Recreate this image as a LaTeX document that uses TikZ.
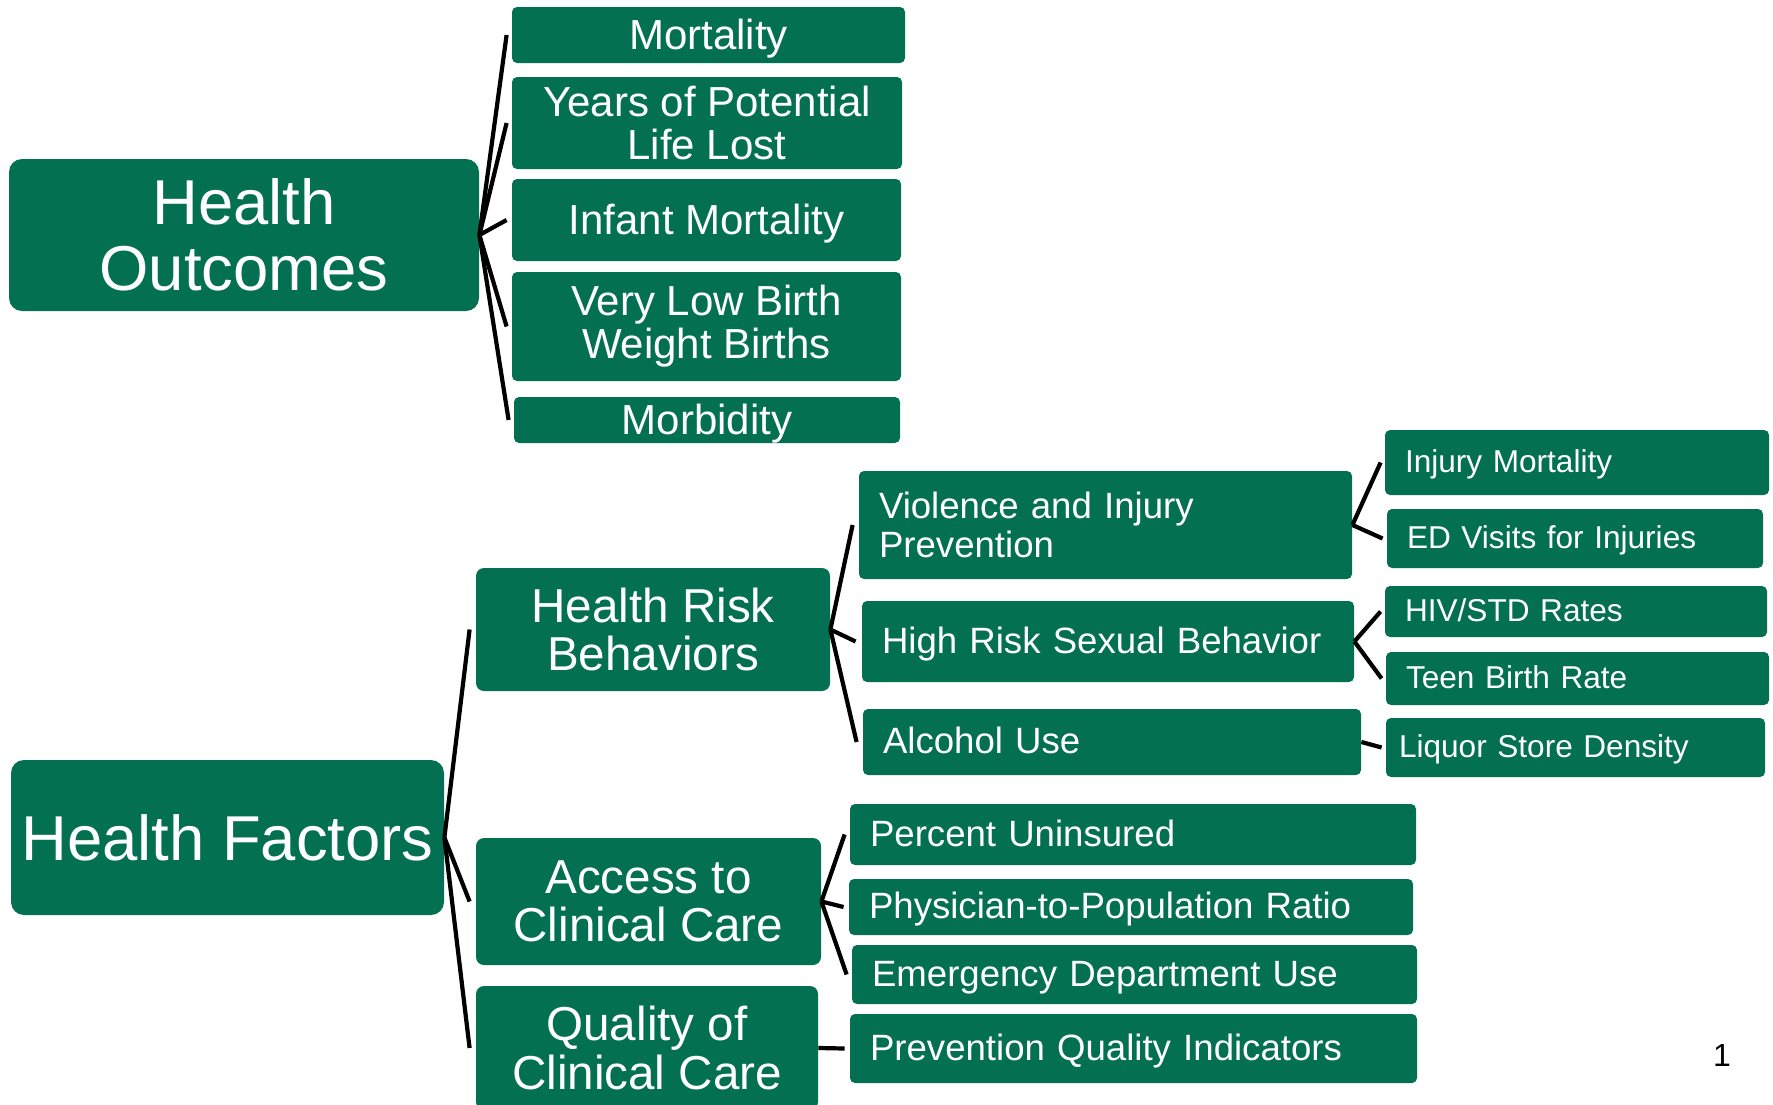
\documentclass[tikz,border=0pt]{standalone}
\usepackage{fontspec}
\setmainfont{Liberation Sans}
\definecolor{hgreen}{RGB}{4,112,82}

\begin{document}
\begin{tikzpicture}[x=0.5pt,y=-0.5pt]
  \tikzstyle{bigbox}=[fill=hgreen, text=white, rounded corners=6.5pt, align=center, inner sep=0pt,
    font=\fontsize{31.7}{33.3}\selectfont]
  \tikzstyle{outbox}=[fill=hgreen, text=white, rounded corners=2.5pt, align=center, inner sep=0pt,
    font=\fontsize{21}{21.5}\selectfont]
  \tikzstyle{midbox}=[fill=hgreen, text=white, rounded corners=4pt, align=center, inner sep=0pt,
    font=\fontsize{23.8}{24.3}\selectfont]
  \tikzstyle{itembox}=[fill=hgreen, text=white, rounded corners=2.5pt, align=left, inner xsep=10pt,
    inner ysep=0pt, font=\fontsize{18.3}{19.2}\selectfont]
  \tikzstyle{leafbox}=[itembox, font=\fontsize{15.8}{17}\selectfont]
  \tikzstyle{oneline}=[text height=15.6pt, text depth=3.9pt]
  \tikzstyle{leafline}=[text height=13.7pt, text depth=3.4pt]
  \tikzstyle{outline}=[text height=18.4pt, text depth=4.4pt]
  \tikzstyle{link}=[line width=2.1pt, black]

  \useasboundingbox (0,0) rectangle (1773,1104);

  % Health outcomes
  \node[bigbox, minimum width=235pt, minimum height=76pt] (outcomes) at (244,235) {Health\\Outcomes};
  \node[outbox, outline, minimum width=196.5pt, minimum height=28pt] (mortality) at (708.5,35) {Mortality};
  \node[outbox, minimum width=195pt, minimum height=46pt] (ypll) at (707,123) {Years of Potential\\Life Lost};
  \node[outbox, outline, minimum width=194.5pt, minimum height=41pt] (infant) at (706.5,220) {Infant Mortality};
  \node[outbox, minimum width=194.5pt, minimum height=54.5pt] (vlbw) at (706.5,326.5) {Very Low Birth\\Weight Births};
  \node[outbox, outline, minimum width=193pt, minimum height=23pt] (morbidity) at (707,420) {Morbidity};

  % Health factors
  \node[bigbox, minimum width=216.5pt, minimum height=77.5pt] (factors) at (227.5,837.5) {Health Factors};
  \node[midbox, minimum width=177pt, minimum height=61.5pt] (risk) at (653,629.5) {Health Risk\\Behaviors};
  \node[midbox, minimum width=172.5pt, minimum height=63.5pt] (access) at (648.5,901.5) {Access to\\Clinical Care};
  \node[midbox, minimum width=171pt, minimum height=62pt] (quality) at (647,1048) {Quality of\\Clinical Care};

  % Risk behaviors
  \node[itembox, text width=226.5pt, minimum height=54pt] (violence) at (1105.5,525) {Violence and Injury\\Prevention};
  \node[itembox, oneline, text width=226pt, minimum height=40.5pt] (sexual) at (1108,641.5) {High Risk Sexual Behavior};
  \node[itembox, oneline, text width=229pt, minimum height=33pt] (alcohol) at (1112,742) {Alcohol Use};
  \node[leafbox, leafline, text width=172pt, minimum height=32.5pt] (injury) at (1577,462.5) {Injury Mortality};
  \node[leafbox, leafline, text width=168pt, minimum height=29.5pt] (edvisits) at (1575,538.5) {ED Visits for Injuries};
  \node[leafbox, leafline, text width=171pt, minimum height=25.5pt] (hivstd) at (1576,611.5) {HIV/STD Rates};
  \node[leafbox, leafline, text width=171.5pt, minimum height=26.5pt] (teen) at (1577.5,678.5) {Teen Birth Rate};
  \node[leafbox, leafline, inner xsep=6.5pt, text width=176.5pt, minimum height=29.5pt] (liquor) at (1575.5,747.5) {Liquor Store Density};

  % Clinical care
  \node[itembox, oneline, text width=263pt, minimum height=30.5pt] (uninsured) at (1133,834.5) {Percent Uninsured};
  \node[itembox, oneline, text width=262pt, minimum height=28pt] (physician) at (1131,907) {Physician-to-Population Ratio};
  \node[itembox, oneline, text width=262.5pt, minimum height=29.5pt] (emergency) at (1134.5,974.5) {Emergency Department Use};
  \node[itembox, oneline, text width=263.5pt, minimum height=34.5pt] (prevention) at (1133.5,1048.5) {Prevention Quality Indicators};

  \node[font=\fontsize{16}{16}\selectfont, inner sep=0pt] (pagenum) at (1722,1055) {1};

  % Connectors
  \foreach \n in {mortality,ypll,infant,vlbw,morbidity}
    \draw[link] (outcomes.east) -- ([xshift=-2.5pt]\n.west);
  \foreach \n in {risk,access,quality}
    \draw[link] (factors.east) -- ([xshift=-3pt]\n.west);
  \foreach \n in {violence,sexual,alcohol}
    \draw[link] (risk.east) -- ([xshift=-3pt]\n.west);
  \foreach \n in {uninsured,physician,emergency}
    \draw[link] (access.east) -- ([xshift=-2.5pt]\n.west);
  \draw[link] (quality.east) -- ([xshift=-2.5pt]prevention.west);
  \draw[link] (violence.east) -- ([xshift=-2pt]injury.west);
  \draw[link] (violence.east) -- ([xshift=-2pt]edvisits.west);
  \draw[link] (sexual.east) -- ([xshift=-2pt]hivstd.west);
  \draw[link] (sexual.east) -- ([xshift=-2pt]teen.west);
  \draw[link] (alcohol.east) -- ([xshift=-2pt]liquor.west);
\end{tikzpicture}
\end{document}
